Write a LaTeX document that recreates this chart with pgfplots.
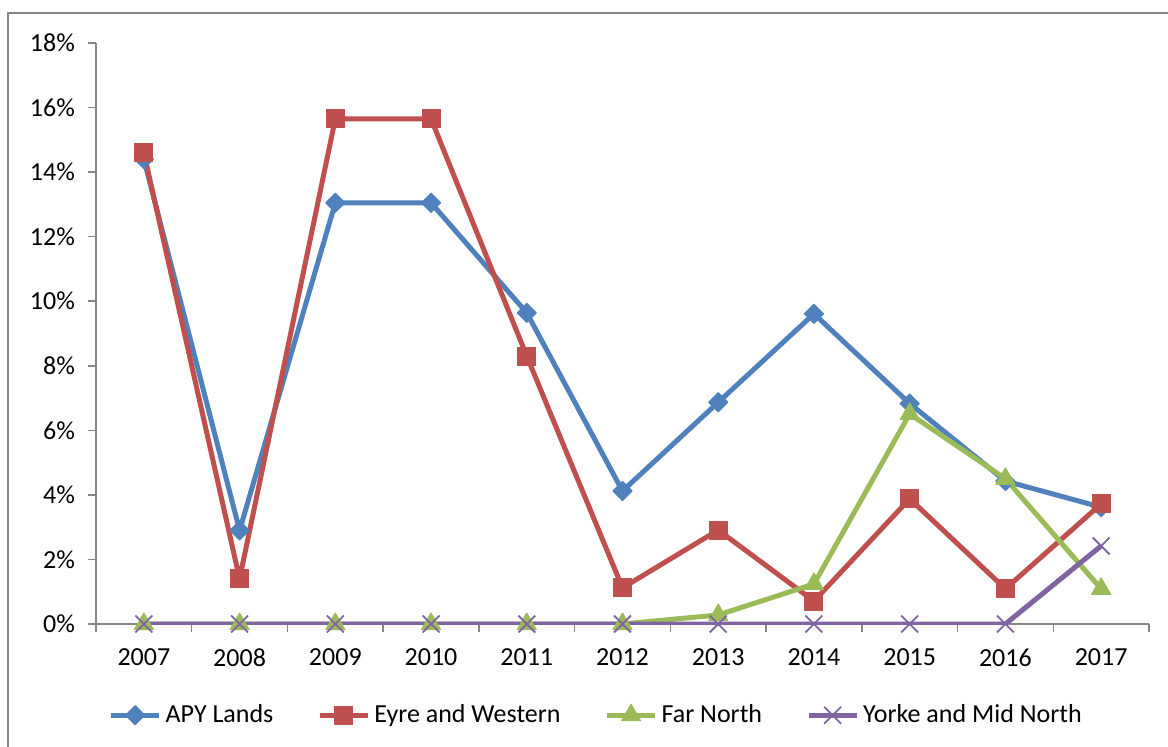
\documentclass[border=0pt]{standalone}
\usepackage{fontspec}
\setmainfont{Carlito}
\usepackage{pgfplots}
\pgfplotsset{compat=1.18}
\definecolor{apy}{HTML}{4F81BD}
\definecolor{eyre}{HTML}{C0504D}
\definecolor{far}{HTML}{9BBB59}
\definecolor{yorke}{HTML}{8064A2}
\definecolor{axgray}{HTML}{868686}
\begin{document}
\fontsize{13pt}{15.6pt}\selectfont
\begin{tikzpicture}
\begin{axis}[
  name=ax,
  scale only axis, width=526.5pt, height=290.5pt,
  xmin=-0.5, xmax=10.5, ymin=0, ymax=18,
  axis lines*=left,
  xtick={-0.5,0.5,1.5,2.5,3.5,4.5,5.5,6.5,7.5,8.5,9.5,10.5},
  x tick label as interval,
  xticklabels={2007,2008,2009,2010,2011,2012,2013,2014,2015,2016,2017},
  ytick={0,2,4,6,8,10,12,14,16,18},
  yticklabel={\pgfmathprintnumber{\tick}\%},
  /pgf/number format/assume math mode=true,
  tick align=outside, major tick length=4pt,
  every tick/.style={axgray, line width=0.75pt},
  axis line style={axgray, line width=0.75pt},
  ticklabel style={font=\fontsize{13pt}{15.6pt}\selectfont, text=black},
  xticklabel style={yshift=-4pt},
  yticklabel style={xshift=-2pt},
  every axis plot/.append style={line width=2.5pt, line join=round},
  legend columns=4,
  legend style={draw=none, at={(0.476,-0.157)}, anchor=center,
    font=\fontsize{13pt}{15.6pt}\selectfont,
    /tikz/every even column/.append style={column sep=20pt},
    inner sep=0pt},
  legend cell align=left,
  legend image code/.code={\draw[mark repeat=2,mark phase=2,#1] plot coordinates {(0pt,0pt)(12pt,0pt)(24pt,0pt)};},
]
\addplot[apy, mark=square*, mark options={rotate=45, scale=1, line width=0.5pt}, mark size=3.4pt] coordinates {
(0,14.4)(1,2.9)(2,13.05)(3,13.05)(4,9.64)(5,4.12)(6,6.87)(7,9.61)(8,6.83)(9,4.43)(10,3.62)};
\addlegendentry{APY Lands}
\addplot[eyre, mark=square*, mark options={line width=0.5pt}, mark size=4.5pt] coordinates {
(0,14.6)(1,1.4)(2,15.65)(3,15.65)(4,8.3)(5,1.12)(6,2.91)(7,0.71)(8,3.88)(9,1.09)(10,3.72)};
\addlegendentry{Eyre and Western}
\addplot[far, mark=triangle*, mark options={line width=0.5pt}, mark size=5.5pt] coordinates {
(0,0)(1,0)(2,0)(3,0)(4,0)(5,0)(6,0.28)(7,1.24)(8,6.51)(9,4.5)(10,1.09)};
\addlegendentry{Far North}
\addplot[yorke, mark=x, mark options={line width=0.9pt}, mark size=6pt] coordinates {
(0,0)(1,0)(2,0)(3,0)(4,0)(5,0)(6,0)(7,0)(8,0)(9,0)(10,2.42)};
\addlegendentry{Yorke and Mid North}
\end{axis}
\draw[axgray, line width=0.75pt] ([xshift=-44pt,yshift=-120pt]ax.south west) -- ([xshift=-44pt,yshift=305.5pt]ax.south west) -- ([xshift=620pt,yshift=305.5pt]ax.south west);
\pgfresetboundingbox
\path[use as bounding box] ([xshift=-48pt,yshift=-61pt]ax.south west) rectangle ([xshift=536pt,yshift=312pt]ax.south west);
\end{tikzpicture}
\end{document}
